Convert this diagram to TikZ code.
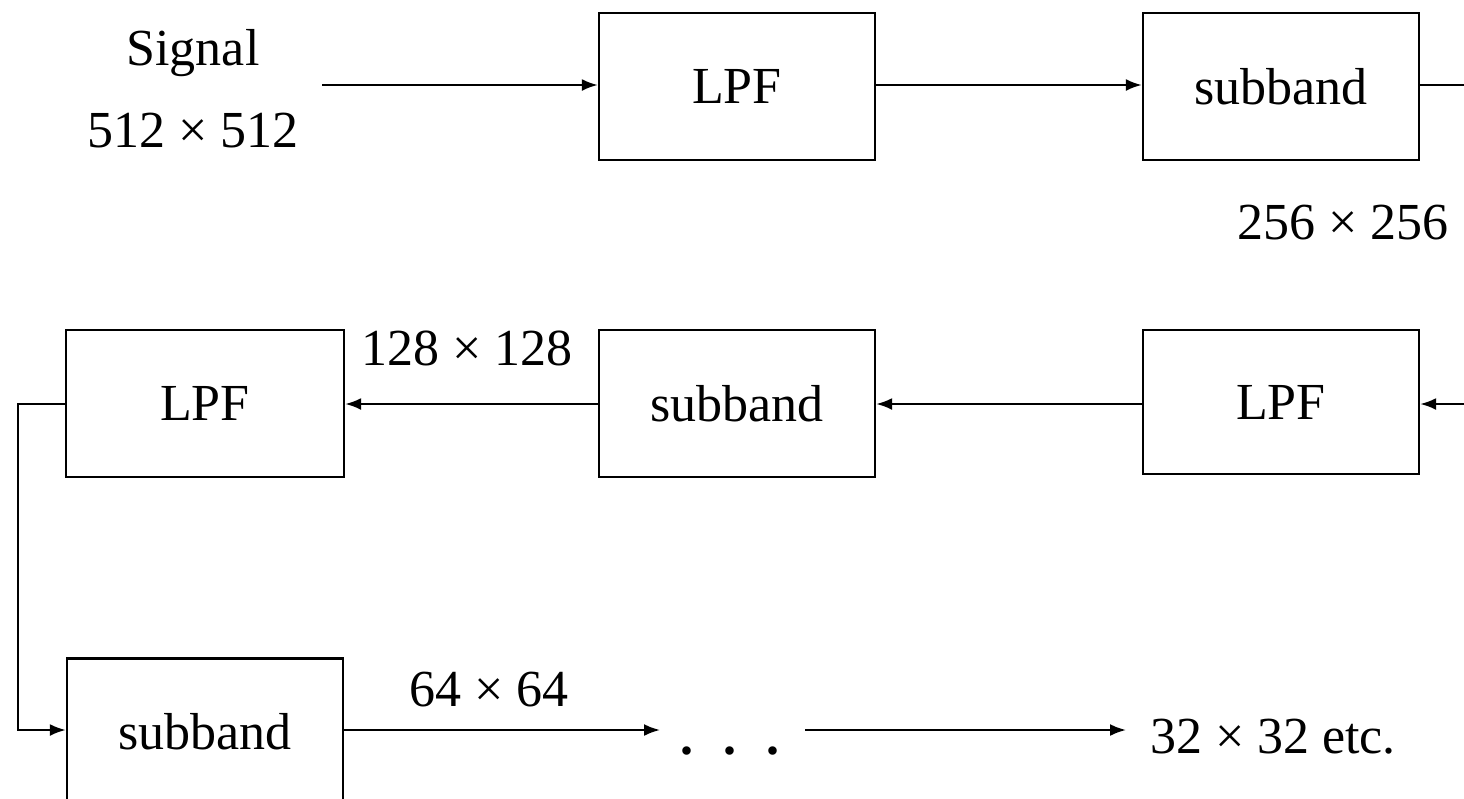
\documentclass[tikz,border=0pt]{standalone}
\usepackage{fontspec}
\setmainfont{Liberation Serif}
\usetikzlibrary{arrows.meta}
\begin{document}
\begin{tikzpicture}[x=0.5pt,y=-0.5pt,
  every node/.style={font=\fontsize{26}{31}\selectfont, inner sep=0pt},
  blk/.style={draw, line width=1.2pt, minimum width=138pt, minimum height=73.5pt},
  conn/.style={line width=1.1pt},
  arr/.style={conn, -{Latex[length=8pt,width=6pt]}}]
\useasboundingbox (0,0) rectangle (1464,799);
\clip (0,0) rectangle (1464,799);
% row 1
\node[anchor=base] (sig) at (193,65) {Signal};
\node (s512) at (193,131) {512 × 512};
\coordinate (in) at (322,85);
\node[blk] (lpf1) at (737,86.5) {LPF};
\node[blk] (sb1) at (1281,86.5) {subband};
\node (s256) at (1343,223) {256 × 256};
% row 2
\node[blk, minimum height=72pt] (lpf2) at (1281,402) {LPF};
\node[blk] (sb2) at (737,403.5) {subband};
\node[blk, minimum width=139pt] (lpf3) at (205,403.5) {LPF};
\node (s128) at (467,348) {128 × 128};
% row 3
\node[blk] (sb3) at (205,732) {subband};
\node (s64) at (489,690) {64 × 64};
\node (dots) at (730,751) {\textbf{.}\hspace{15pt}\textbf{.}\hspace{15pt}\textbf{.}};
\node (s32) at (1273,737) {32 × 32 etc.};
\coordinate (d0) at (660,730);
\coordinate (d1) at (805,730);
\coordinate (d2) at (1126,730);
\coordinate (r1) at (1470,85);
\coordinate (r2) at (1470,404);
\coordinate (l1) at (18,404);
\coordinate (l2) at (18,730);
% connectors
\draw[arr] (in) -- (lpf1.west |- in);
\draw[arr] (lpf1.east |- in) -- (sb1.west |- in);
\draw[conn] (sb1.east |- r1) -- (r1) -- (r2);
\draw[arr] (r2) -- (lpf2.east |- r2);
\draw[arr] (lpf2.west |- r2) -- (sb2.east |- r2);
\draw[arr] (sb2.west |- r2) -- (lpf3.east |- r2);
\draw[arr] (lpf3.west |- l1) -- (l1) -- (l2) -- (sb3.west |- l2);
\draw[arr] (sb3.east |- d0) -- (d0);
\draw[arr] (d1) -- (d2);
\end{tikzpicture}
\end{document}
